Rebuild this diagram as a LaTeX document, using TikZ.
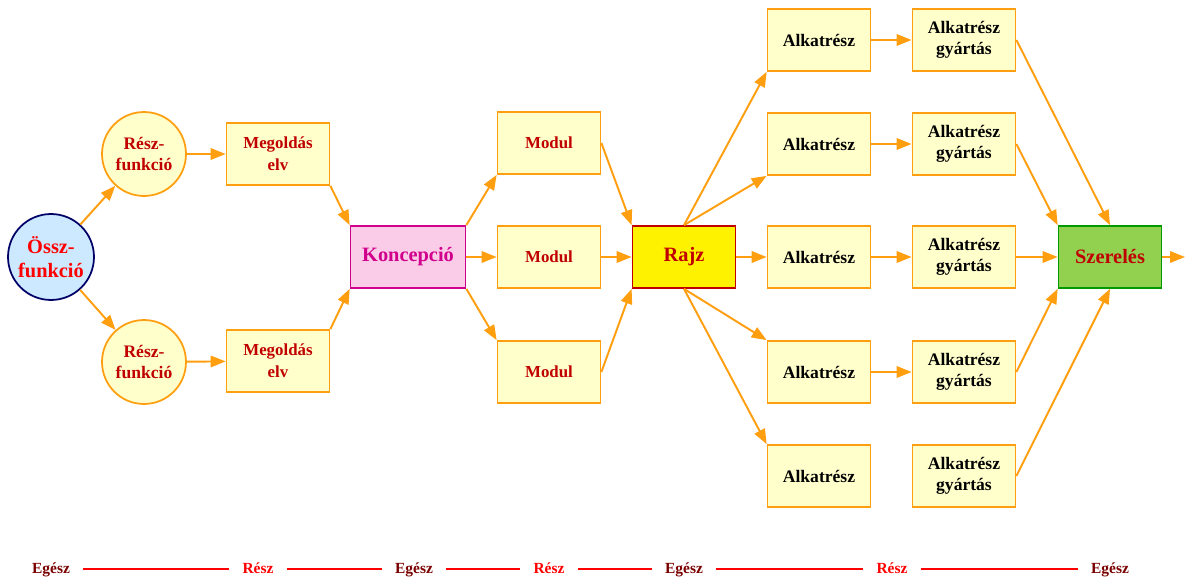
\documentclass[tikz,border=0pt]{standalone}
\usepackage{fontspec}
\setmainfont{Liberation Serif}
\usetikzlibrary{arrows.meta}
\definecolor{narancs}{HTML}{FF9E0F}
\definecolor{halvany}{HTML}{FFFFCC}
\definecolor{sotetpiros}{HTML}{C00000}
\definecolor{bordo}{HTML}{7A0000}
\definecolor{bibor}{HTML}{D0008C}
\definecolor{fuzold}{HTML}{92D050}
\definecolor{egkek}{HTML}{CCE9FF}
\tikzset{
  doboz/.style={draw=narancs,fill=halvany,line width=1pt,minimum width=2.06cm,minimum height=1.24cm,align=center,font=\bfseries\fontsize{9.6}{12.4}\selectfont,text=sotetpiros,inner sep=1pt},
  kor/.style={circle,draw=narancs,fill=halvany,line width=1pt,minimum size=1.68cm,align=center,inner sep=0pt,font=\bfseries\fontsize{10}{11.6}\selectfont,text=sotetpiros},
  nagy/.style={font=\bfseries\fontsize{11.6}{14}\selectfont},
  nyil/.style={draw=narancs,line width=1.1pt,-{Triangle[length=8.5pt,width=6.5pt]}},
  felirat/.style={anchor=base,font=\bfseries\fontsize{8.8}{10}\selectfont}
}
\begin{document}
\begin{tikzpicture}[x=0.02cm,y=-0.02cm]
  \useasboundingbox (0,0) rectangle (1185,577);
  \node[kor,nagy,draw=black!60!blue,fill=egkek,minimum size=1.72cm,text=red] (ossz) at (51,257) {Össz-\\funkció};
  \node[kor] (r1) at (144,154) {Rész-\\funkció};
  \node[kor] (r2) at (144,362) {Rész-\\funkció};
  \node[doboz] (e1) at (278,154) {Megoldás\\elv};
  \node[doboz] (e2) at (278,361) {Megoldás\\elv};
  \node[doboz,nagy,minimum width=2.3cm,draw=bibor,fill=magenta!20!white,text=bibor] (konc) at (408,257) {Koncepció};
  \node[doboz] (m1) at (549,143) {Modul};
  \node[doboz] (m2) at (549,257) {Modul};
  \node[doboz] (m3) at (549,372) {Modul};
  \node[doboz,nagy,draw=sotetpiros,fill=yellow] (rajz) at (684,257) {Rajz};
  \node[doboz,nagy,draw=green!60!black,fill=fuzold] (szer) at (1110,257) {Szerelés};
  \foreach \i/\y in {1/40,2/144,3/257,4/372,5/476}{
    \node[doboz,text=black,font=\bfseries\fontsize{10}{12}\selectfont] (a\i) at (819,\y) {Alkatrész};
    \node[doboz,text=black,font=\bfseries\fontsize{10}{12}\selectfont] (g\i) at (964,\y) {Alkatrész\\gyártás};
  }
  \coordinate (ki) at (1185,257);
  % nyilak
  \draw[nyil] (ossz) -- (r1); \draw[nyil] (ossz) -- (r2);
  \draw[nyil] (r1) -- (e1); \draw[nyil] (r2) -- (e2);
  \draw[nyil] (e1.south east) -- (konc.north west);
  \draw[nyil] (e2.north east) -- (konc.south west);
  \draw[nyil] (konc.north east) -- (m1.south west);
  \draw[nyil] (konc) -- (m2);
  \draw[nyil] (konc.south east) -- (m3.north west);
  \draw[nyil] (m1.east) -- (rajz.north west);
  \draw[nyil] (m2) -- (rajz);
  \draw[nyil] (m3.east) -- (rajz.south west);
  \draw[nyil] (rajz.north) -- (a1.south west);
  \draw[nyil] (rajz.north) -- (a2.south west);
  \draw[nyil] (rajz) -- (a3);
  \draw[nyil] (rajz.south) -- (a4.north west);
  \draw[nyil] (rajz.south) -- (a5.north west);
  \foreach \i in {1,2,3,4}\draw[nyil] (a\i) -- (g\i);
  \draw[nyil] (g1.east) -- (szer.north);
  \draw[nyil] (g2.east) -- (szer.north west);
  \draw[nyil] (g3) -- (szer);
  \draw[nyil] (g4.east) -- (szer.south west);
  \draw[nyil] (g5.east) -- (szer.south);
  \draw[nyil] (szer) -- (ki);
  % also sor
  \foreach \n/\x/\t/\c in {f1/51/Egész/bordo,f2/258/Rész/red,f3/414/Egész/bordo,f4/549/Rész/red,f5/684/Egész/bordo,f6/892/Rész/red,f7/1110/Egész/bordo}
    \node[felirat,text=\c] (\n) at (\x,573) {\t};
  \foreach \a/\b in {f1/f2,f2/f3,f3/f4,f4/f5,f5/f6,f6/f7}
    \draw[red,line width=0.9pt,shorten <=4pt,shorten >=4pt] (\a.east|-0,569) -- (\b.west|-0,569);
\end{tikzpicture}
\end{document}
